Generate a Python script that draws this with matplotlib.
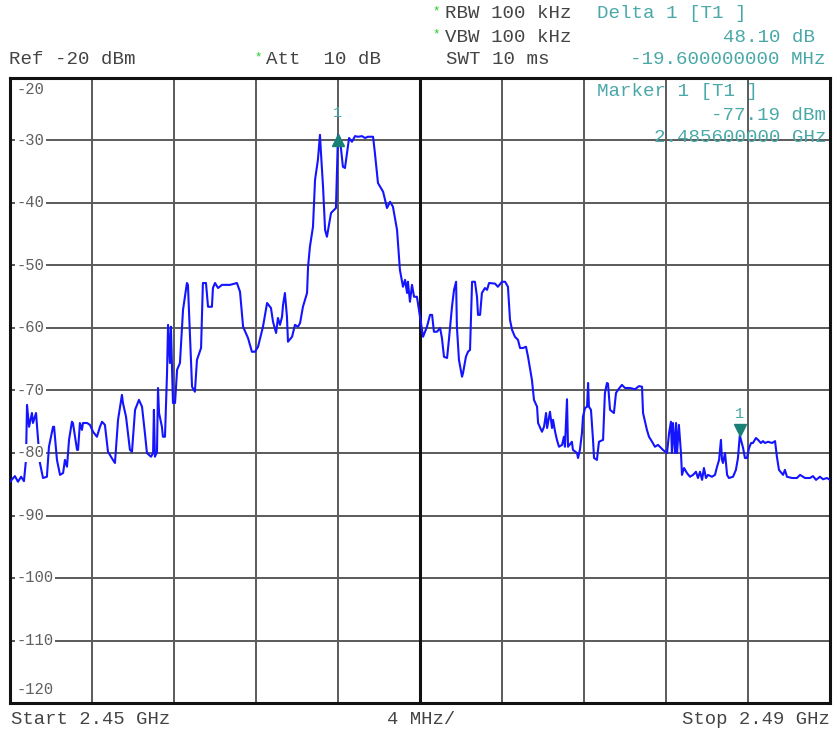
import matplotlib
matplotlib.use('Agg')
import matplotlib.pyplot as plt

# ---------------- data ----------------
start_mhz = 2450.0
span_mhz = 40.0
div_mhz = 4.0
ref_dbm = -20
bottom_dbm = -120

offset_mhz = [
    0.00, 0.24, 0.39, 0.54, 0.68, 0.78, 0.83, 0.93, 1.07, 1.12, 1.27, 1.32, 1.46, 1.61, 1.80, 1.90,
    2.10, 2.15, 2.29, 2.44, 2.59, 2.68, 2.78, 2.88, 3.02, 3.07, 3.27, 3.32, 3.41, 3.51, 3.56, 3.76,
    3.90, 4.05, 4.24, 4.39, 4.49, 4.63, 4.78, 5.02, 5.12, 5.27, 5.46, 5.51, 5.66, 5.85, 5.95, 6.10,
    6.29, 6.44, 6.59, 6.68, 6.88, 6.98, 7.02, 7.07, 7.17, 7.22, 7.27, 7.41, 7.46, 7.56, 7.66, 7.71,
    7.80, 7.85, 7.95, 8.05, 8.15, 8.29, 8.44, 8.63, 8.68, 8.88, 9.02, 9.12, 9.32, 9.41, 9.56, 9.66,
    9.85, 9.90, 10.00, 10.15, 10.34, 10.73, 11.07, 11.22, 11.37, 11.61, 11.80, 11.95, 12.10, 12.34,
    12.54, 12.73, 12.83, 12.98, 13.07, 13.17, 13.27, 13.32, 13.41, 13.51, 13.56, 13.76, 13.90, 14.05,
    14.15, 14.29, 14.49, 14.54, 14.63, 14.78, 14.88, 15.02, 15.12, 15.17, 15.27, 15.37, 15.46, 15.66,
    15.90, 15.95, 16.00, 16.10, 16.24, 16.34, 16.44, 16.54, 16.68, 16.83, 16.98, 17.17, 17.32, 17.46,
    17.71, 17.80, 17.95, 18.20, 18.39, 18.54, 18.68, 18.88, 19.02, 19.17, 19.27, 19.37, 19.41, 19.51,
    19.61, 19.71, 19.85, 20.00, 20.15, 20.34, 20.49, 20.59, 20.68, 20.83, 20.98, 21.07, 21.17, 21.32,
    21.41, 21.56, 21.66, 21.76, 21.80, 21.90, 22.05, 22.10, 22.24, 22.34, 22.44, 22.54, 22.68, 22.78,
    22.83, 22.93, 23.02, 23.17, 23.27, 23.37, 23.66, 23.80, 24.00, 24.15, 24.29, 24.39, 24.49, 24.63,
    24.78, 24.88, 25.02, 25.17, 25.27, 25.46, 25.56, 25.71, 25.76, 25.95, 26.05, 26.15, 26.20, 26.34,
    26.44, 26.49, 26.59, 26.68, 26.78, 26.93, 27.02, 27.07, 27.17, 27.22, 27.41, 27.46, 27.66, 27.71,
    27.80, 27.90, 27.95, 28.05, 28.15, 28.20, 28.24, 28.34, 28.44, 28.49, 28.63, 28.73, 28.93, 29.02,
    29.12, 29.17, 29.27, 29.46, 29.56, 29.66, 29.85, 30.00, 30.24, 30.49, 30.68, 30.83, 30.88, 31.07,
    31.17, 31.32, 31.46, 31.61, 31.85, 32.05, 32.15, 32.24, 32.29, 32.34, 32.44, 32.49, 32.54, 32.63,
    32.73, 32.78, 32.88, 33.02, 33.17, 33.32, 33.46, 33.56, 33.66, 33.76, 33.85, 33.95, 34.05, 34.24,
    34.39, 34.49, 34.59, 34.68, 34.73, 34.78, 34.88, 34.98, 35.07, 35.27, 35.41, 35.51, 35.60, 35.76,
    35.85, 35.95, 36.05, 36.15, 36.24, 36.39, 36.49, 36.63, 36.73, 36.83, 36.98, 37.17, 37.32, 37.41,
    37.51, 37.71, 37.80, 37.90, 38.15, 38.39, 38.54, 38.78, 39.02, 39.17, 39.32, 39.51, 39.66, 39.85,
    40.00,
]

level_dbm = [
    -84.6, -83.7, -84.6, -83.8, -84.5, -81.1, -72.3, -75.8, -73.6, -75.2, -73.6, -75.8, -81.6, -84.0, -83.8, -79.0,
    -75.8, -75.8, -81.1, -83.5, -83.2, -81.1, -82.2, -77.9, -75.0, -75.2, -79.5, -79.5, -75.2, -76.3, -75.2, -75.2,
    -75.5, -76.6, -77.4, -75.8, -75.0, -75.5, -79.8, -81.1, -81.6, -74.7, -70.7, -72.0, -74.2, -79.5, -79.8, -73.1,
    -71.5, -72.6, -77.1, -80.0, -80.6, -80.0, -73.1, -80.6, -79.8, -69.6, -73.6, -75.8, -77.4, -77.4, -67.2, -59.5,
    -65.6, -59.8, -72.0, -72.0, -66.7, -65.6, -57.1, -52.8, -53.1, -69.4, -70.2, -65.1, -63.2, -52.8, -52.8, -56.6,
    -56.6, -53.6, -52.8, -53.6, -53.1, -53.1, -52.8, -54.2, -59.8, -61.6, -63.8, -63.8, -63.0, -59.8,
    -56.0, -56.8, -59.0, -60.8, -58.4, -59.5, -58.2, -56.3, -54.4, -58.2, -62.2, -61.4, -59.5, -59.8,
    -59.2, -56.6, -54.4, -50.2, -47.0, -43.8, -36.3, -33.1, -29.1, -32.0, -37.4, -44.3, -45.4, -41.6,
    -40.8, -34.7, -29.1, -29.9, -34.2, -34.4, -32.0, -29.6, -30.2, -29.3, -29.4, -29.3, -29.6, -29.4,
    -29.4, -32.0, -36.8, -38.2, -40.8, -39.8, -40.6, -44.3, -50.7, -53.4, -52.3, -54.4, -52.6, -55.8,
    -53.1, -55.0, -55.0, -58.2, -61.4, -59.8, -57.9, -57.9, -60.6, -60.6, -60.0, -61.6, -64.6, -64.8,
    -61.9, -56.6, -53.9, -52.6, -59.8, -65.1, -67.8, -67.2, -64.6, -63.8, -63.5, -52.6, -52.6, -55.0,
    -57.9, -57.9, -54.4, -53.6, -53.9, -52.8, -52.9, -53.4, -52.6, -52.6, -53.4, -58.7, -60.3, -61.4,
    -61.9, -63.2, -63.2, -63.0, -64.6, -68.3, -71.5, -72.6, -75.2, -76.6, -75.8, -73.6, -76.0, -73.4,
    -76.0, -74.7, -76.6, -77.9, -79.0, -78.7, -77.4, -79.0, -71.4, -79.0, -78.2, -79.5, -80.0, -80.8,
    -79.5, -76.8, -74.2, -72.8, -72.6, -68.8, -72.6, -73.1, -77.9, -80.8, -81.1, -78.2, -77.9, -70.4,
    -68.8, -68.9, -73.1, -73.6, -70.4, -69.9, -69.1, -69.6, -69.6, -69.8, -69.3, -69.4, -73.6, -76.3,
    -77.4, -78.2, -79.0, -78.7, -79.5, -80.0, -76.8, -75.0, -80.0, -75.2, -80.0, -75.2, -80.0, -75.5,
    -80.0, -83.5, -82.4, -83.2, -83.8, -83.5, -83.0, -84.0, -83.0, -84.3, -82.4, -84.0, -83.5, -83.8,
    -83.5, -82.2, -81.1, -77.9, -81.1, -81.6, -80.0, -83.5, -84.0, -83.8, -82.7, -80.8, -77.2, -79.2,
    -80.8, -80.8, -79.2, -78.4, -78.4, -77.6, -77.9, -78.4, -78.1, -78.4, -78.2, -78.4, -78.1, -80.6,
    -82.7, -83.5, -82.7, -83.8, -84.0, -84.0, -83.5, -84.0, -84.0, -83.7, -84.3, -83.8, -84.2, -84.0,
    -84.3,
]

level_ticks = [-20, -30, -40, -50, -60, -70, -80, -90, -100, -110, -120]

delta_marker_mhz = 16.0      # 2.466 GHz
delta_marker_dbm = -29.09
marker1_mhz = 35.6           # 2.4856 GHz
marker1_dbm = -77.19

header_left = ["Ref -20 dBm", "Att  10 dB"]
header_mid = ["RBW 100 kHz", "VBW 100 kHz", "SWT 10 ms"]
delta_lines = ["Delta 1 [T1 ]", "48.10 dB", "-19.600000000 MHz"]
marker_lines = ["Marker 1 [T1 ]", "-77.19 dBm", "2.485600000 GHz"]
footer = ["Start 2.45 GHz", "4 MHz/", "Stop 2.49 GHz"]

# ---------------- figure ----------------
W, H = 834, 731
FONT = 'Liberation Mono'
plt.rcParams['font.family'] = [FONT, 'DejaVu Sans Mono']

fig = plt.figure(figsize=(W / 100, H / 100), dpi=100)
fig.patch.set_facecolor('white')


def fx(px):
    return px / W


def fy(py):
    return 1 - py / H


ax = fig.add_axes([fx(10), fy(703), (830 - 10) / W, (703 - 78) / H])
ax.set_xlim(start_mhz, start_mhz + span_mhz)
ax.set_ylim(bottom_dbm, ref_dbm)
xt = [start_mhz + div_mhz * i for i in range(11)]
ax.set_xticks(xt)
ax.set_yticks(level_ticks)
ax.tick_params(length=0, labelbottom=False, labelleft=False)
ax.grid(True, color='#5a5a5a', lw=1.4)
ax.set_axisbelow(True)
for s in ax.spines.values():
    s.set_linewidth(2.2)
    s.set_color('#111111')
ax.axvline(start_mhz + span_mhz / 2, color='#111111', lw=2.2, zorder=1.5)

freq = [start_mhz + o for o in offset_mhz]
ax.plot(freq, level_dbm, color='#1414ff', lw=1.5, zorder=3)

# level labels
lab_col = '#606060'
for v in level_ticks:
    yv = v
    if v == ref_dbm:
        yv = v - 1.9
    elif v == bottom_dbm:
        yv = v + 2.1
    ax.text(start_mhz + 0.33, yv, f"{v}", ha='left', va='center', fontsize=11.2,
            color=lab_col, zorder=4,
            bbox=dict(facecolor='white', edgecolor='none', pad=1.0) if v not in (ref_dbm, bottom_dbm) else None)

# markers
teal_dark = '#1a7f75'
teal = '#4aa8a8'
ax.plot([start_mhz + delta_marker_mhz], [delta_marker_dbm - 0.9], marker='^', ms=8.5,
        color=teal_dark, zorder=5, clip_on=False)
ax.text(start_mhz + delta_marker_mhz, delta_marker_dbm + 3.5, "1", ha='center', va='center',
        fontsize=11, color=teal, zorder=5)
ax.plot([start_mhz + marker1_mhz], [marker1_dbm + 0.8], marker='v', ms=8.5,
        color=teal_dark, zorder=5, clip_on=False)
ax.text(start_mhz + marker1_mhz, marker1_dbm + 3.5, "1", ha='center', va='center',
        fontsize=11, color=teal, zorder=5)

# header
hdr_col = '#444444'
hs = 13.8
green = '#22cc22'
fig.text(fx(9), fy(60), header_left[0], ha='left', va='center', fontsize=hs, color=hdr_col)
fig.text(fx(266), fy(60), header_left[1], ha='left', va='center', fontsize=hs, color=hdr_col)
fig.text(fx(258), fy(57), "*", ha='center', va='center', fontsize=9, color=green)
fig.text(fx(445), fy(14), header_mid[0], ha='left', va='center', fontsize=hs, color=hdr_col)
fig.text(fx(436), fy(11), "*", ha='center', va='center', fontsize=9, color=green)
fig.text(fx(445), fy(37), header_mid[1], ha='left', va='center', fontsize=hs, color=hdr_col)
fig.text(fx(436), fy(34), "*", ha='center', va='center', fontsize=9, color=green)
fig.text(fx(446), fy(60), header_mid[2], ha='left', va='center', fontsize=hs, color=hdr_col)

fig.text(fx(597), fy(14), delta_lines[0], ha='left', va='center', fontsize=hs, color=teal)
fig.text(fx(815), fy(37), delta_lines[1], ha='right', va='center', fontsize=hs, color=teal)
fig.text(fx(826), fy(60), delta_lines[2], ha='right', va='center', fontsize=hs, color=teal)

fig.text(fx(597), fy(92), marker_lines[0], ha='left', va='center', fontsize=hs, color=teal, zorder=10)
fig.text(fx(826), fy(115), marker_lines[1], ha='right', va='center', fontsize=hs, color=teal, zorder=10)
fig.text(fx(826), fy(138), marker_lines[2], ha='right', va='center', fontsize=hs, color=teal, zorder=10)

# footer
fs = 13.6
fig.text(fx(11), fy(719), footer[0], ha='left', va='center', fontsize=fs, color=hdr_col)
fig.text(fx(421), fy(719), footer[1], ha='center', va='center', fontsize=fs, color=hdr_col)
fig.text(fx(830), fy(719), footer[2], ha='right', va='center', fontsize=fs, color=hdr_col)

fig.savefig('out.png', dpi=100, facecolor='white')
